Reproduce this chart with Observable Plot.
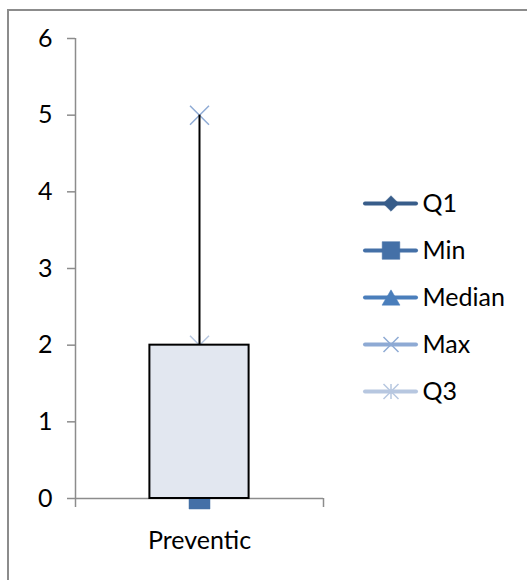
<!DOCTYPE html>
<html>
<head>
<meta charset="utf-8">
<script src="https://cdn.jsdelivr.net/npm/d3@7"></script>
<script src="https://cdn.jsdelivr.net/npm/@observablehq/plot@0.6"></script>
<style>
  html, body { margin: 0; padding: 0; background: #fff; overflow: hidden; }
  #chart { position: relative; width: 527px; height: 580px; overflow: hidden; }
  #border { position: absolute; left: 7px; top: 9px; width: 700px; height: 800px;
            border-left: 2px solid #8c8c8c; border-top: 2px solid #8c8c8c; }
  #chart svg { position: absolute; top: 0; font-variant-ligatures: none; }
</style>
</head>
<body>
<div id="chart"><div id="border"></div></div>
<script>
// Box-plot summary per category
const categories = ["Preventic"];
const q1Values = [0];
const minValues = [0];
const medianValues = [1];
const maxValues = [5];
const q3Values = [2];

// Series order as listed in the legend
const seriesNames = ["Q1", "Min", "Median", "Max", "Q3"];
const seriesColors = ["#385d8a", "#4470a7", "#4a7ebb", "#8eaad4", "#b7c7e0"];
const yTicks = [0, 1, 2, 3, 4, 5, 6];

const FONT = "Lato, 'Open Sans', sans-serif";
const FONT_SIZE = 25;
const AXIS_GRAY = "#8c8c8c";

// Marker shapes; r is the half extent of each glyph
const half = s => Math.sqrt(s / Math.PI);
const shapes = {
  diamond: {draw(c, s) { const r = half(s); c.moveTo(0, -r); c.lineTo(r, 0); c.lineTo(0, r); c.lineTo(-r, 0); c.closePath(); }},
  square: {draw(c, s) { const r = half(s); c.rect(-r, -r, 2 * r, 2 * r); }},
  triangle: {draw(c, s) { const r = half(s), h = r * 0.85; c.moveTo(0, -h); c.lineTo(r, h); c.lineTo(-r, h); c.closePath(); }},
  times: {draw(c, s) { const r = half(s); c.moveTo(-r, -r); c.lineTo(r, r); c.moveTo(-r, r); c.lineTo(r, -r); }},
  star: {draw(c, s) { const r = half(s); c.moveTo(-r, -r); c.lineTo(r, r); c.moveTo(-r, r); c.lineTo(r, -r); c.moveTo(0, -r); c.lineTo(0, r); }}
};
const markerStyle = {
  Q1:     {symbol: shapes.diamond,  filled: true,  r: 7.5,  legendR: 7.8},
  Min:    {symbol: shapes.square,   filled: true,  r: 10.5, legendR: 8.8},
  Median: {symbol: shapes.triangle, filled: true,  r: 9,    legendR: 9},
  Max:    {symbol: shapes.times,    filled: false, r: 9.5,  legendR: 7.5},
  Q3:     {symbol: shapes.star,     filled: false, r: 9.5,  legendR: 7.5}
};

const rows = categories.map((cat, i) => ({
  cat, pos: i + 0.5,
  Q1: q1Values[i], Min: minValues[i], Median: medianValues[i], Max: maxValues[i], Q3: q3Values[i]
}));

function markerDot(name, data, opts, useLegendSize) {
  const st = markerStyle[name];
  const color = seriesColors[seriesNames.indexOf(name)];
  return Plot.dot(data, {
    ...opts,
    symbol: st.symbol,
    r: useLegendSize ? st.legendR : st.r,
    fill: st.filled ? color : "none",
    stroke: color,
    strokeWidth: st.filled ? 0.5 : 1.5
  });
}

const main = Plot.plot({
  width: 527, height: 580,
  marginLeft: 75, marginRight: 204, marginTop: 38, marginBottom: 82,
  style: {fontFamily: FONT, fontSize: FONT_SIZE + "px", color: "#000", background: "transparent", overflow: "visible"},
  x: {domain: [0, categories.length], axis: null},
  y: {domain: [0, 6], axis: null},
  marks: [
    // axes
    Plot.axisY({ticks: yTicks, tickSize: 8, tickPadding: 15, tickFormat: d => String(d),
                stroke: AXIS_GRAY, strokeWidth: 1.5, fill: "#000", label: null}),
    Plot.ruleX([0], {stroke: AXIS_GRAY, strokeWidth: 1.5}),
    Plot.ruleY([0], {stroke: AXIS_GRAY, strokeWidth: 1.5}),
    Plot.axisX({ticks: d3.range(categories.length + 1), tickSize: 9, tickFormat: () => "",
                stroke: AXIS_GRAY, strokeWidth: 1.5, label: null}),
    Plot.axisX({ticks: rows.map(d => d.pos), tickSize: 0, tickPadding: 33,
                tickFormat: v => categories[Math.floor(v)], fill: "#000", label: null}),
    // series markers
    ...seriesNames.map(name => markerDot(name, rows, {x: "pos", y: name}, false)),
    // box from Q1 to Q3
    Plot.rect(rows, {x1: d => d.pos - 0.2, x2: d => d.pos + 0.2, y1: "Q1", y2: "Q3",
                     fill: "#e2e7f0", stroke: "#000", strokeWidth: 2}),
    // whisker up to the maximum
    Plot.ruleX(rows, {x: "pos", y1: "Q3", y2: "Max", stroke: "#000", strokeWidth: 2})
  ]
});
main.style.left = "0px";

const legend = Plot.plot({
  width: 164, height: 580, margin: 0,
  style: {fontFamily: FONT, fontSize: FONT_SIZE + "px", color: "#000", background: "transparent", overflow: "visible"},
  x: {domain: [0, 1], range: [2, 53], axis: null},
  y: {type: "point", domain: seriesNames, range: [201, 392], padding: 0, axis: null},
  marks: [
    ...seriesNames.map((name, i) =>
      Plot.ruleY([name], {y: d => d, x1: 0, x2: 1, stroke: seriesColors[i], strokeWidth: 4, strokeLinecap: "round"})),
    ...seriesNames.map(name => markerDot(name, [name], {x: 0.5, y: d => d}, true)),
    Plot.text(seriesNames, {x: 1, y: d => d, text: d => d, dx: 6, textAnchor: "start", fill: "#000", fontSize: FONT_SIZE})
  ]
});
legend.style.left = "363px";

const chart = document.getElementById("chart");
chart.appendChild(main);
chart.appendChild(legend);
</script>
</body>
</html>
